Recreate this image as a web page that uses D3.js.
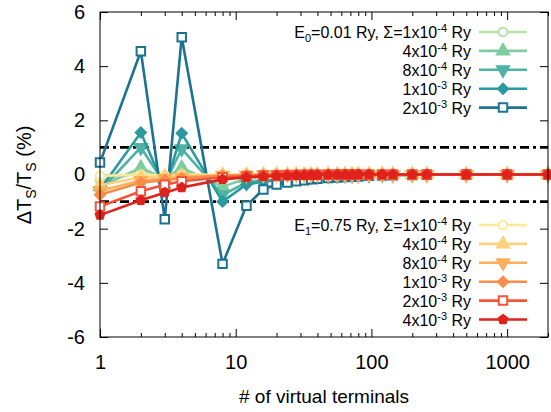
<!DOCTYPE html>
<html>
<head>
<meta charset="utf-8">
<script src="https://cdn.jsdelivr.net/npm/d3@7"></script>
<style>
  body { margin: 0; background: #fff; }
  text { font-family: "Liberation Sans", Arial, sans-serif; fill: #000; }
</style>
</head>
<body>
<svg id="chart" width="551" height="412"></svg>
<script>
// number of virtual terminals
var xs = [1, 2, 3, 4, 8, 12, 16, 20, 24, 28, 32, 36, 40, 48, 56, 64, 72, 80, 96, 120, 144, 200, 256, 500, 1000, 2000];

// E0 = 0.01 Ry, sigma = 1e-4, 4e-4, 8e-4, 1e-3, 2e-3 Ry
var e0Sigma = [[1, -4], [4, -4], [8, -4], [1, -3], [2, -3]];
var e0s1 = [-0.2, 0.05, -0.05, 0.05, -0.1, -0.05, -0.03, -0.02, -0.02, -0.01, -0.01, -0.01, -0.01, 0, 0, 0, 0, 0, 0, 0, 0, 0, 0, 0, 0, 0];
var e0s2 = [-0.45, 0.25, -0.15, 0.25, -0.45, -0.15, -0.1, -0.08, -0.06, -0.05, -0.04, -0.03, -0.03, -0.02, -0.02, -0.01, -0.01, -0.01, -0.01, 0, 0, 0, 0, 0, 0, 0];
var e0s3 = [-0.6, 1.0, -0.35, 0.95, -0.75, -0.3, -0.2, -0.15, -0.12, -0.1, -0.08, -0.07, -0.06, -0.05, -0.04, -0.03, -0.03, -0.02, -0.02, -0.01, -0.01, 0, 0, 0, 0, 0];
var e0s4 = [-0.55, 1.55, -0.5, 1.52, -1.0, -0.37, -0.26, -0.2, -0.16, -0.13, -0.11, -0.1, -0.09, -0.07, -0.06, -0.05, -0.04, -0.04, -0.03, -0.02, -0.02, -0.01, -0.01, 0, 0, 0];
var e0s5 = [0.44, 4.55, -1.65, 5.07, -3.3, -1.15, -0.55, -0.37, -0.3, -0.25, -0.21, -0.18, -0.16, -0.13, -0.11, -0.09, -0.08, -0.07, -0.05, -0.04, -0.03, -0.02, -0.01, 0, 0, 0];

// E1 = 0.75 Ry, sigma = 1e-4, 4e-4, 8e-4, 1e-3, 2e-3, 4e-3 Ry
var e1Sigma = [[1, -4], [4, -4], [8, -4], [1, -3], [2, -3], [4, -3]];
var e1s1 = [-0.05, 0.0, -0.03, 0.0, -0.01, 0, 0, 0, 0, 0, 0, 0, 0, 0, 0, 0, 0, 0, 0, 0, 0, 0, 0, 0, 0, 0];
var e1s2 = [-0.4, -0.1, -0.08, -0.05, -0.02, -0.01, 0, 0, 0, 0, 0, 0, 0, 0, 0, 0, 0, 0, 0, 0, 0, 0, 0, 0, 0, 0];
var e1s3 = [-0.6, -0.22, -0.15, -0.1, -0.03, -0.02, -0.01, 0, 0, 0, 0, 0, 0, 0, 0, 0, 0, 0, 0, 0, 0, 0, 0, 0, 0, 0];
var e1s4 = [-0.75, -0.3, -0.2, -0.14, -0.05, -0.03, -0.02, -0.01, -0.01, 0, 0, 0, 0, 0, 0, 0, 0, 0, 0, 0, 0, 0, 0, 0, 0, 0];
var e1s5 = [-1.18, -0.62, -0.38, -0.25, -0.1, -0.06, -0.04, -0.03, -0.02, -0.02, -0.01, -0.01, -0.01, 0, 0, 0, 0, 0, 0, 0, 0, 0, 0, 0, 0, 0];
var e1s6 = [-1.5, -0.95, -0.67, -0.48, -0.18, -0.1, -0.07, -0.05, -0.04, -0.03, -0.03, -0.02, -0.02, -0.01, -0.01, -0.01, -0.01, 0, 0, 0, 0, 0, 0, 0, 0, 0];

var yTicks = [-6, -4, -2, 0, 2, 4, 6];
var xTicks = [1, 10, 100, 1000];
var limits = [1, -1];

var e0Colors = ["#b4e3a4", "#7fcc9f", "#4fb3a4", "#2a9a9e", "#1b7391"];
var e1Colors = ["#fde89c", "#fdd17d", "#fdb05a", "#fa8c4a", "#f5563a", "#e0221c"];
var e0Shapes = ["circle", "triUp", "triDown", "diamond", "square"];
var e1Shapes = ["circle", "triUp", "triDown", "diamond", "square", "pentagon"];

var margin = {top: 12, right: 3, bottom: 75, left: 100}
  , width = 551 - margin.left - margin.right
  , height = 412 - margin.top - margin.bottom;

var svg = d3.select("#chart");
var g = svg.append("g").attr("transform", "translate(" + margin.left + "," + margin.top + ")");

var x = d3.scaleLog().domain([1, 2000]).range([0, width]);
var y = d3.scaleLinear().domain([-6, 6]).range([height, 0]);

var minor = [];
[1, 10, 100, 1000].forEach(function(d) {
  for (var i = 2; i <= 9; i++) if (d * i <= 2000) minor.push(d * i);
});

// ticks, inward on all four sides
function noText(sel) { sel.selectAll("text").remove(); sel.select(".domain").remove(); }
function plain(d) { return String(d); }
g.append("g").attr("transform", "translate(0," + height + ")")
  .call(d3.axisBottom(x).tickValues(xTicks).tickSize(-8).tickPadding(18).tickFormat(plain))
  .call(function(s) { s.select(".domain").remove(); s.selectAll("text").style("font-size", "20px"); });
g.append("g").attr("transform", "translate(0," + height + ")")
  .call(d3.axisBottom(x).tickValues(minor).tickSize(-4)).call(noText);
g.append("g").call(d3.axisTop(x).tickValues(xTicks).tickSize(-8)).call(noText);
g.append("g").call(d3.axisTop(x).tickValues(minor).tickSize(-4)).call(noText);
g.append("g")
  .call(d3.axisLeft(y).tickValues(yTicks).tickSize(-8).tickPadding(15).tickFormat(plain))
  .call(function(s) { s.select(".domain").remove(); s.selectAll("text").style("font-size", "20px"); });
g.append("g").attr("transform", "translate(" + width + ",0)")
  .call(d3.axisRight(y).tickValues(yTicks).tickSize(-8)).call(noText);
g.selectAll(".tick line").attr("stroke", "#000");

// +-1 % limits
g.selectAll(".limit").data(limits).enter().append("line")
  .attr("x1", 0).attr("x2", width)
  .attr("y1", function(d) { return y(d); }).attr("y2", function(d) { return y(d); })
  .attr("stroke", "#000").attr("stroke-width", 2.6)
  .attr("stroke-dasharray", "9,4,3,4");

function shapePath(name) {
  if (name == "circle") return d3.symbol(d3.symbolCircle, 60)();
  if (name == "triUp" || name == "triDown") return d3.symbol(d3.symbolTriangle, 64)();
  if (name == "diamond") return d3.symbol(d3.symbolSquare, 52)();
  if (name == "square") return d3.symbol(d3.symbolSquare, 72)();
  var pts = d3.range(5).map(function(i) {
    var a = -Math.PI / 2 + i * 2 * Math.PI / 5;
    return [4.6 * Math.cos(a), 4.6 * Math.sin(a)];
  });
  return "M" + pts.join("L") + "Z";
}
function shapeRotate(name) {
  if (name == "triDown") return " rotate(180)";
  if (name == "diamond") return " rotate(45)";
  return "";
}
function shapeFill(name, color) {
  return (name == "circle" || name == "square") ? "#fff" : color;
}

var line = d3.line().x(function(d) { return x(d[0]); }).y(function(d) { return y(d[1]); });

function drawSeries(values, color, shape) {
  var pts = xs.map(function(d, i) { return [d, values[i]]; });
  var s = g.append("g");
  s.append("path").datum(pts).attr("d", line)
    .attr("fill", "none").attr("stroke", color).attr("stroke-width", 2.6);
  s.selectAll("path.pt").data(pts).enter().append("path").attr("class", "pt")
    .attr("d", shapePath(shape))
    .attr("transform", function(d) { return "translate(" + x(d[0]) + "," + y(d[1]) + ")" + shapeRotate(shape); })
    .attr("fill", shapeFill(shape, color)).attr("stroke", color).attr("stroke-width", 2);
}

var e0Data = [e0s1, e0s2, e0s3, e0s4, e0s5];
var e1Data = [e1s1, e1s2, e1s3, e1s4, e1s5, e1s6];
e0Data.forEach(function(v, i) { drawSeries(v, e0Colors[i], e0Shapes[i]); });
e1Data.forEach(function(v, i) { drawSeries(v, e1Colors[i], e1Shapes[i]); });

g.append("rect").attr("width", width).attr("height", height)
  .attr("fill", "none").attr("stroke", "#000").attr("stroke-width", 1);

// legends
function legendText(t, sig, head) {
  if (head) {
    t.append("tspan").text("E");
    t.append("tspan").attr("dy", 4).style("font-size", "11px").text(head[0]);
    t.append("tspan").attr("dy", -4).text("=" + head[1] + " Ry, \u03a3=" + sig[0] + "x10");
  } else {
    t.append("tspan").text(sig[0] + "x10");
  }
  t.append("tspan").attr("dy", -6).style("font-size", "11px").text(sig[1]);
  t.append("tspan").attr("dy", 6).text(" Ry");
}

function drawLegend(top, sigmas, colors, shapes, head) {
  sigmas.forEach(function(sig, i) {
    var yy = top + i * 18.9;
    var t = svg.append("text").attr("x", 471).attr("y", yy + 6)
      .attr("text-anchor", "end").style("font-size", "16px");
    legendText(t, sig, i == 0 ? head : null);
    svg.append("line").attr("x1", 479).attr("x2", 527).attr("y1", yy).attr("y2", yy)
      .attr("stroke", colors[i]).attr("stroke-width", 2.6);
    svg.append("path").attr("d", shapePath(shapes[i]))
      .attr("transform", "translate(503," + yy + ")" + shapeRotate(shapes[i]))
      .attr("fill", shapeFill(shapes[i], colors[i])).attr("stroke", colors[i]).attr("stroke-width", 2);
  });
}
drawLegend(32, e0Sigma, e0Colors, e0Shapes, ["0", "0.01"]);
drawLegend(225, e1Sigma, e1Colors, e1Shapes, ["1", "0.75"]);

// axis titles
svg.append("text").attr("x", margin.left + width / 2).attr("y", 403)
  .attr("text-anchor", "middle").style("font-size", "19px").text("# of virtual terminals");

var yl = svg.append("text").attr("transform", "translate(31,175) rotate(-90)")
  .attr("text-anchor", "middle").style("font-size", "20px");
yl.append("tspan").text("\u0394T");
yl.append("tspan").attr("dy", 5).style("font-size", "14px").text("S");
yl.append("tspan").attr("dy", -5).text("/T");
yl.append("tspan").attr("dy", 5).style("font-size", "14px").text("S");
yl.append("tspan").attr("dy", -5).text(" (%)");
</script>
</body>
</html>
